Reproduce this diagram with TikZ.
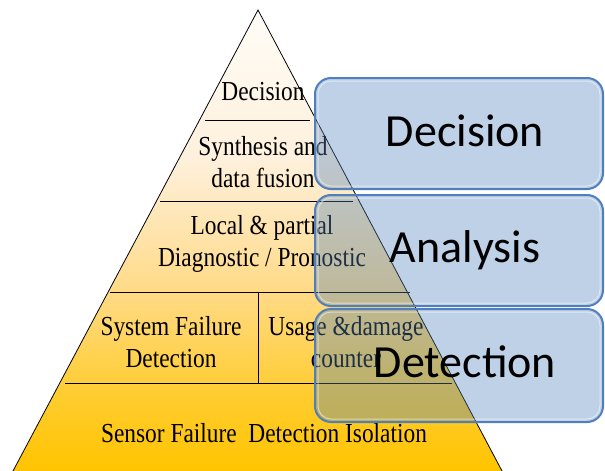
\documentclass[tikz,border=0pt]{standalone}
\usepackage{fontspec}
\newfontfamily\pyrfont[FakeStretch=0.85]{Liberation Serif}
\newfontfamily\boxfont{Carlito}
\definecolor{boxblue}{HTML}{4F81BD}
\definecolor{boxedge}{HTML}{4F7FBD}
\definecolor{pyrA}{HTML}{FFC400}
\definecolor{pyrB}{HTML}{FFCC2E}
\definecolor{pyrC}{HTML}{FFDB8A}
\definecolor{pyrD}{HTML}{FEF0DC}
\definecolor{pyrE}{HTML}{FFFDF8}
\pgfdeclareverticalshading{pyrshade}{100bp}{color(0bp)=(pyrA); color(25bp)=(pyrA); color(33bp)=(pyrB); color(45bp)=(pyrC); color(59bp)=(pyrD); color(75bp)=(pyrE); color(100bp)=(pyrE)}

\begin{document}
\begin{tikzpicture}
[x=1pt,y=-1pt,
layer/.style = {font=\pyrfont\fontsize{27.5}{32}\selectfont, align=center, anchor=base, inner sep=0pt},
sep/.style = {line width=0.9pt},
level/.style = {draw=boxedge, line width=2pt, rounded corners=16pt, fill=boxblue, fill opacity=0.37},
tag/.style = {font=\boxfont\fontsize{46}{50}\selectfont, anchor=base, inner sep=0pt}]

\useasboundingbox (0,0) rectangle (605,471);

% pyramid
\coordinate (T) at (258,10);
\coordinate (L) at (13,471);
\coordinate (R) at (502,471);
\shade[shading=pyrshade] (T)--(L)--(R)--cycle;
\draw[line width=0.8pt] (L)--(T)--(R);

\draw[sep] (205,120)--(310,120);
\draw[sep] (160,201)--(353,201);
\draw[sep] (110,292)--(410,292);
\draw[sep] (65,383)--(452,383);
\draw[sep] (258,292)--(258,383);

% base anchor sits on the last line
\node (dec) at (263,100) [layer] {Decision};
\node (syn) at (263,187) [layer] {Synthesis and\\data fusion};
\node (loc) at (262,266) [layer] {Local \& partial\\Diagnostic / Pronostic};
\node (sys) at (171,367) [layer] {System Failure\\Detection};
\node (use) at (346,367) [layer] {Usage \&damage\\counter};
\node (sen) at (264,442) [layer] {Sensor Failure\ \ Detection Isolation};

% levels on the right
\foreach \top/\bot/\word/\base in {78/189/Decision/146, 195/306/Analysis/262, 309/422/Detection/377}{
  \draw[level] (315,\top) rectangle (603,\bot);
  \draw[white, opacity=0.5, line width=1pt, rounded corners=13pt] (318,\top+3) rectangle (600,\bot-3);
  \node (t\word) at (465,\base) [tag] {\word};
}

\end{tikzpicture}
\end{document}
